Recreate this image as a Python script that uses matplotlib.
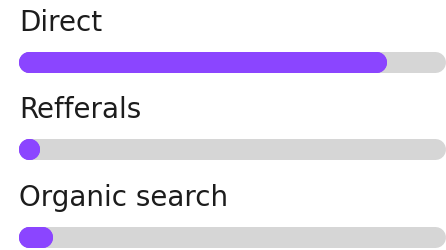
import matplotlib
matplotlib.use("Agg")
import matplotlib.pyplot as plt

categories = ["Direct", "Refferals", "Organic search"]
values = [86, 5, 8]
track_max = 100

W, H, DPI = 446, 251, 100
fig = plt.figure(figsize=(W / DPI, H / DPI), dpi=DPI)
ax = fig.add_axes([0, 0, 1, 1])
ax.set_axis_off()

left_px, right_px = 18, 446
row0_px, row_step_px = 62.5, 87.5
bar_h_px = 21
ax.set_xlim(-left_px / (right_px - left_px) * track_max, track_max)
ax.set_ylim((H - row0_px) / row_step_px, -row0_px / row_step_px)

r = bar_h_px / 2 / (right_px - left_px) * track_max
lw = bar_h_px * 72 / DPI
track_color = "#D6D6D6"
fill_color = "#8B45FF"
text_color = "#1C1C1C"

for i, (cat, v) in enumerate(zip(categories, values)):
    ax.plot([r, track_max - r], [i, i], color=track_color, lw=lw,
            solid_capstyle="round")
    end = max(v - r, r)
    ax.plot([r, end], [i, i], color=fill_color, lw=lw,
            solid_capstyle="round", marker="o", markersize=lw,
            markeredgewidth=0, markevery=[0, 1])
    ax.text(0.2, i - 31.5 / row_step_px, cat, fontsize=20, family="DejaVu Sans",
            color=text_color, va="baseline", ha="left")

fig.savefig("out.png", dpi=DPI)
